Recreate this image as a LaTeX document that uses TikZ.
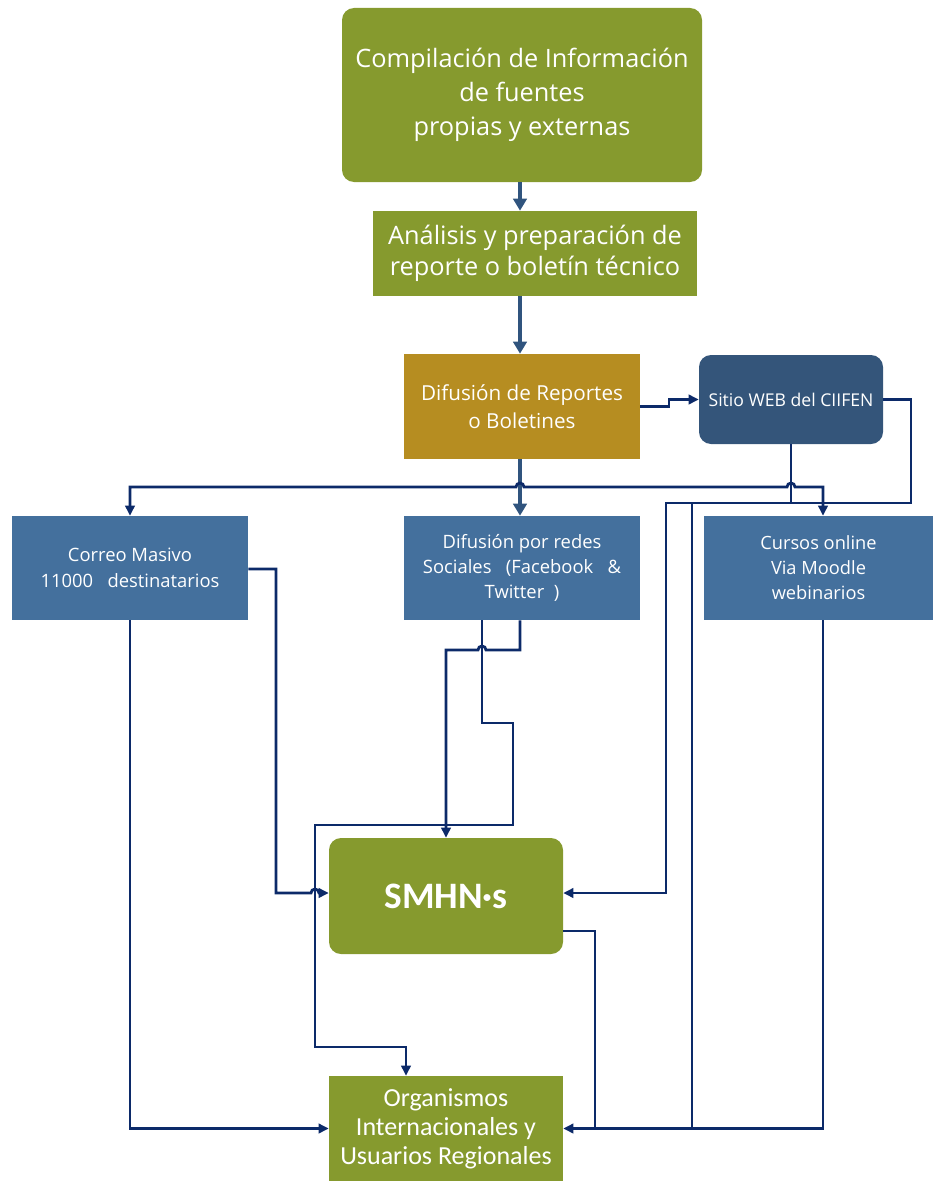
\documentclass[tikz,border=0pt]{standalone}
\usepackage{fontspec}
\setmainfont{Open Sans}
\newfontfamily\calib{Carlito}
\usetikzlibrary{arrows.meta}
\definecolor{cOlive}{HTML}{869A2E}
\definecolor{cGold}{HTML}{B68D21}
\definecolor{cDark}{HTML}{34557A}
\definecolor{cBlue}{HTML}{44709D}
\definecolor{cNavy}{HTML}{0C2A69}
\definecolor{cSlate}{HTML}{30547E}
\tikzset{
  box/.style={draw=none, text=white, align=center, inner sep=0pt},
  navl/.style={draw=cNavy, line width=2.1pt},
  nav/.style={navl, -{Triangle[length=7.5pt,width=7pt]}},
  navboth/.style={navl, {Triangle[length=7.5pt,width=7pt]}-{Triangle[length=7.5pt,width=7pt]}},
  sl/.style={draw=cSlate, line width=2.5pt, -{Triangle[length=9pt,width=10pt]}},
}
\begin{document}
\begin{tikzpicture}[x=0.75pt,y=-0.75pt]
\useasboundingbox (0,0) rectangle (933,1181);

% nodes
\node[box, fill=cOlive, rounded corners=9pt, minimum width=270pt, minimum height=130.5pt,
  font=\fontsize{19}{25.5}\selectfont] (comp) at (522,95)
  {Compilación de Información\\de fuentes\\propias y externas};
\node[box, fill=cOlive, minimum width=243pt, minimum height=63.75pt,
  font=\fontsize{19}{23.5}\selectfont] (anal) at (535,253.5)
  {Análisis y preparación de\\reporte o boletín técnico};
\node[box, fill=cGold, minimum width=177pt, minimum height=78.75pt,
  font=\fontsize{15.5}{21}\selectfont] (dif) at (522,406.5)
  {Difusión de Reportes\\o Boletines};
\node[box, fill=cDark, rounded corners=9pt, minimum width=138pt, minimum height=66.75pt,
  font=\fontsize{13.2}{15}\selectfont] (web) at (791,399.5)
  {Sitio WEB del CIIFEN};
\node[box, fill=cBlue, minimum width=177pt, minimum height=78pt,
  font=\fontsize{13.8}{19.5}\selectfont] (correo) at (130,568)
  {Correo Masivo\\11000\ \ \ destinatarios};
\node[box, fill=cBlue, minimum width=177pt, minimum height=78pt,
  font=\fontsize{13.8}{18.75}\selectfont] (redes) at (522,568)
  {Difusión por redes\\Sociales\ \ \ (Facebook\ \ \ \&\\Twitter\ \ )};
\node[box, fill=cBlue, minimum width=171.75pt, minimum height=78pt,
  font=\fontsize{13.7}{18.75}\selectfont] (cursos) at (818.5,568)
  {Cursos online\\Via Moodle\\webinarios};
\node[box, fill=cOlive, rounded corners=9pt, minimum width=175.5pt, minimum height=87pt,
  font=\calib\bfseries\fontsize{28}{30}\selectfont] (smhn) at (446,896)
  {SMHN·s};
\node[box, fill=cOlive, minimum width=175.5pt, minimum height=78.75pt,
  font=\calib\fontsize{19.5}{21.75}\selectfont] (org) at (446,1128.5)
  {Organismos\\Internacionales y\\Usuarios Regionales};

% junction coordinates
\coordinate (jweb) at (791,503);
\coordinate (jorg) at (692,1128.5);
\coordinate (jorg2) at (595,1128.5);

% main vertical flow
\draw[sl] (comp.south -| 520,0) -- (anal.north -| 520,0);
\draw[sl] (anal.south -| 520,0) -- (dif.north -| 520,0);
\draw[sl] (dif.south -| 520,0) -- (redes.north -| 520,0);

% difusion -> web
\draw[nav] (dif.east) -- (669,406.5) -- (669,399.5) -- (web.west);

% distribution line to correo and cursos
\draw[navboth] (correo.north) -- (130,487) -- (516,487)
  arc[start angle=180,end angle=0,radius=3pt] -- (787,487)
  arc[start angle=180,end angle=0,radius=3pt] -- (823,487) -- (823,0 |- cursos.north);

% web -> SMHN
\draw[nav] (web.east) -- (911,399.5) -- (911,503) -- (666,503) -- (666,893) -- (smhn.east |- 0,893);
\draw[navl] (web.south) -- (jweb);
\draw[navl] (692,503) -- (jorg);

% cursos -> org
\draw[nav] (cursos.south -| 823,0) -- (823,1128.5) -- (org.east);

% SMHN -> org line
\draw[navl] (smhn.east |- 0,931) -- (595,931) -- (jorg2);

% correo -> SMHN
\draw[nav] (correo.east |- 0,569) -- (276,569) -- (276,893) -- (311,893)
  arc[start angle=180,end angle=0,radius=3pt] -- (smhn.west |- 0,893);

% correo -> org
\draw[nav] (correo.south) -- (130,1128.5) -- (org.west);

% redes -> SMHN
\draw[nav] (redes.south -| 520,0) -- (520,650) -- (486,650)
  arc[start angle=0,end angle=180,radius=3pt] -- (446,650) -- (smhn.north -| 446,0);

% redes -> org
\draw[nav] (redes.south -| 482,0) -- (482,723) -- (513,723) -- (513,825) -- (315,825)
  -- (315,1047) -- (406,1047) -- (org.north -| 406,0);
\end{tikzpicture}
\end{document}
